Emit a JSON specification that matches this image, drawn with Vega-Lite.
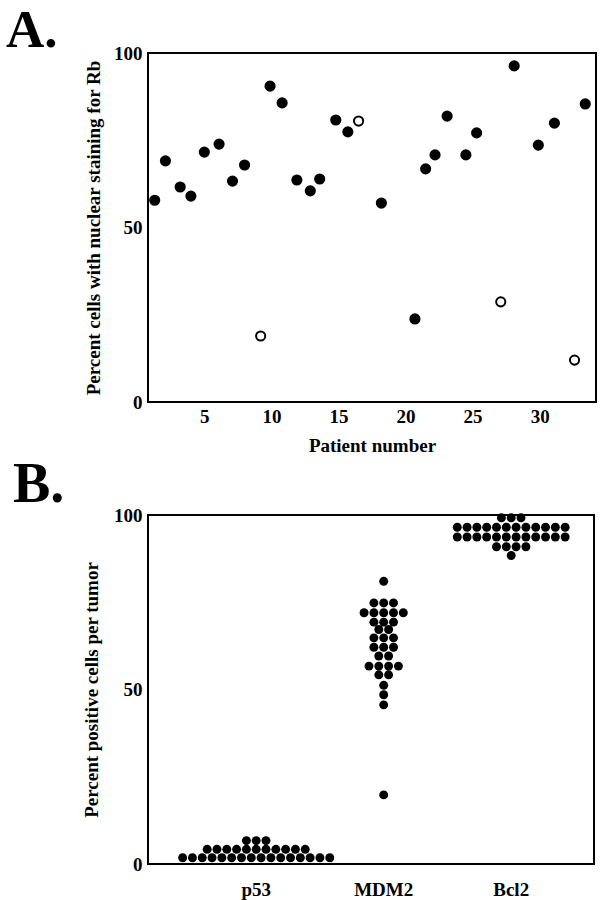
{
  "$schema": "https://vega.github.io/schema/vega-lite/v6.json",
  "padding": {"left": 5, "top": 4, "right": 5, "bottom": 0},
  "spacing": 0,
  "background": "white",
  "config": {
    "view": {"stroke": "black", "strokeWidth": 2},
    "font": "Liberation Serif",
    "axis": {
      "labelFont": "Liberation Serif", "labelFontWeight": "bold", "labelFontSize": 19, "labelColor": "black",
      "titleFont": "Liberation Serif", "titleFontWeight": "bold", "titleFontSize": 19, "titleColor": "black",
      "ticks": false, "grid": false, "domain": false
    },
    "title": {"font": "Liberation Serif", "fontWeight": "bold", "fontSize": 56, "color": "black", "anchor": "start", "frame": "group"}
  },
  "vconcat": [
    {
      "title": {"text": "A.", "dx": -142, "baseline": "alphabetic", "offset": -56, "fontSize": 53},
      "width": 448,
      "height": 349,
      "data": {"values": [
        {"patient": 1.3, "rb": 57.8, "status": "positive"},
        {"patient": 2.1, "rb": 69.1, "status": "positive"},
        {"patient": 3.2, "rb": 61.6, "status": "positive"},
        {"patient": 4.0, "rb": 59.0, "status": "positive"},
        {"patient": 5.0, "rb": 71.6, "status": "positive"},
        {"patient": 6.1, "rb": 73.9, "status": "positive"},
        {"patient": 7.1, "rb": 63.3, "status": "positive"},
        {"patient": 8.0, "rb": 67.9, "status": "positive"},
        {"patient": 9.2, "rb": 18.9, "status": "open"},
        {"patient": 9.9, "rb": 90.5, "status": "positive"},
        {"patient": 10.8, "rb": 85.7, "status": "positive"},
        {"patient": 11.9, "rb": 63.6, "status": "positive"},
        {"patient": 12.9, "rb": 60.5, "status": "positive"},
        {"patient": 13.6, "rb": 63.9, "status": "positive"},
        {"patient": 14.8, "rb": 80.8, "status": "positive"},
        {"patient": 15.7, "rb": 77.4, "status": "positive"},
        {"patient": 16.5, "rb": 80.5, "status": "open"},
        {"patient": 18.2, "rb": 57.0, "status": "positive"},
        {"patient": 20.7, "rb": 23.8, "status": "positive"},
        {"patient": 21.5, "rb": 66.8, "status": "positive"},
        {"patient": 22.2, "rb": 70.8, "status": "positive"},
        {"patient": 23.1, "rb": 81.9, "status": "positive"},
        {"patient": 24.5, "rb": 70.8, "status": "positive"},
        {"patient": 25.3, "rb": 77.1, "status": "positive"},
        {"patient": 27.1, "rb": 28.7, "status": "open"},
        {"patient": 28.1, "rb": 96.3, "status": "positive"},
        {"patient": 29.9, "rb": 73.6, "status": "positive"},
        {"patient": 31.1, "rb": 79.9, "status": "positive"},
        {"patient": 32.6, "rb": 12.0, "status": "open"},
        {"patient": 33.4, "rb": 85.4, "status": "positive"}
      ]},
      "mark": {"type": "point", "shape": "circle", "filled": true, "size": 84, "stroke": "black", "strokeWidth": 2, "opacity": 1},
      "encoding": {
        "x": {"field": "patient", "type": "quantitative", "scale": {"domain": [0.8, 34.2], "nice": false, "zero": false},
              "axis": {"values": [5, 10, 15, 20, 25, 30], "title": "Patient number", "labelPadding": 5, "titlePadding": 10}},
        "y": {"field": "rb", "type": "quantitative", "scale": {"domain": [0, 100], "nice": false},
              "axis": {"values": [0, 50, 100], "title": "Percent cells with nuclear staining for Rb", "labelPadding": 6, "titlePadding": 10}},
        "fill": {"field": "status", "type": "nominal", "scale": {"domain": ["positive", "open"], "range": ["black", "white"]}, "legend": null}
      }
    },
    {
      "title": {"text": "B.", "dx": -135, "baseline": "alphabetic", "offset": -52},
      "width": 446,
      "height": 349,
      "data": {"values": [
        {"marker": "p53", "pct": 1.8}, {"marker": "p53", "pct": 1.8}, {"marker": "p53", "pct": 1.8}, {"marker": "p53", "pct": 1.8},
        {"marker": "p53", "pct": 1.8}, {"marker": "p53", "pct": 1.8}, {"marker": "p53", "pct": 1.8}, {"marker": "p53", "pct": 1.8},
        {"marker": "p53", "pct": 1.8}, {"marker": "p53", "pct": 1.8}, {"marker": "p53", "pct": 1.8}, {"marker": "p53", "pct": 1.8},
        {"marker": "p53", "pct": 1.8}, {"marker": "p53", "pct": 1.8}, {"marker": "p53", "pct": 1.8}, {"marker": "p53", "pct": 1.8},
        {"marker": "p53", "pct": 4.2}, {"marker": "p53", "pct": 4.2}, {"marker": "p53", "pct": 4.2}, {"marker": "p53", "pct": 4.2},
        {"marker": "p53", "pct": 4.2}, {"marker": "p53", "pct": 4.2}, {"marker": "p53", "pct": 4.2}, {"marker": "p53", "pct": 4.2},
        {"marker": "p53", "pct": 4.2}, {"marker": "p53", "pct": 4.2}, {"marker": "p53", "pct": 4.2},
        {"marker": "p53", "pct": 6.7}, {"marker": "p53", "pct": 6.7}, {"marker": "p53", "pct": 6.7},
        {"marker": "MDM2", "pct": 81.0},
        {"marker": "MDM2", "pct": 74.8}, {"marker": "MDM2", "pct": 74.8}, {"marker": "MDM2", "pct": 74.8},
        {"marker": "MDM2", "pct": 72.0}, {"marker": "MDM2", "pct": 72.0}, {"marker": "MDM2", "pct": 72.0}, {"marker": "MDM2", "pct": 72.0}, {"marker": "MDM2", "pct": 72.0},
        {"marker": "MDM2", "pct": 69.3}, {"marker": "MDM2", "pct": 69.3}, {"marker": "MDM2", "pct": 69.3},
        {"marker": "MDM2", "pct": 67.2}, {"marker": "MDM2", "pct": 67.2},
        {"marker": "MDM2", "pct": 64.8}, {"marker": "MDM2", "pct": 64.8}, {"marker": "MDM2", "pct": 64.8},
        {"marker": "MDM2", "pct": 62.1}, {"marker": "MDM2", "pct": 62.1}, {"marker": "MDM2", "pct": 62.1},
        {"marker": "MDM2", "pct": 59.6}, {"marker": "MDM2", "pct": 59.6},
        {"marker": "MDM2", "pct": 56.7}, {"marker": "MDM2", "pct": 56.7}, {"marker": "MDM2", "pct": 56.7}, {"marker": "MDM2", "pct": 56.7},
        {"marker": "MDM2", "pct": 54.2}, {"marker": "MDM2", "pct": 54.2},
        {"marker": "MDM2", "pct": 51.2},
        {"marker": "MDM2", "pct": 48.5},
        {"marker": "MDM2", "pct": 45.6},
        {"marker": "MDM2", "pct": 19.8},
        {"marker": "Bcl2", "pct": 99.2}, {"marker": "Bcl2", "pct": 99.2}, {"marker": "Bcl2", "pct": 99.2},
        {"marker": "Bcl2", "pct": 96.5}, {"marker": "Bcl2", "pct": 96.5}, {"marker": "Bcl2", "pct": 96.5}, {"marker": "Bcl2", "pct": 96.5},
        {"marker": "Bcl2", "pct": 96.5}, {"marker": "Bcl2", "pct": 96.5}, {"marker": "Bcl2", "pct": 96.5}, {"marker": "Bcl2", "pct": 96.5},
        {"marker": "Bcl2", "pct": 96.5}, {"marker": "Bcl2", "pct": 96.5}, {"marker": "Bcl2", "pct": 96.5}, {"marker": "Bcl2", "pct": 96.5},
        {"marker": "Bcl2", "pct": 93.7}, {"marker": "Bcl2", "pct": 93.7}, {"marker": "Bcl2", "pct": 93.7}, {"marker": "Bcl2", "pct": 93.7},
        {"marker": "Bcl2", "pct": 93.7}, {"marker": "Bcl2", "pct": 93.7}, {"marker": "Bcl2", "pct": 93.7}, {"marker": "Bcl2", "pct": 93.7},
        {"marker": "Bcl2", "pct": 93.7}, {"marker": "Bcl2", "pct": 93.7}, {"marker": "Bcl2", "pct": 93.7}, {"marker": "Bcl2", "pct": 93.7},
        {"marker": "Bcl2", "pct": 90.9}, {"marker": "Bcl2", "pct": 90.9}, {"marker": "Bcl2", "pct": 90.9}, {"marker": "Bcl2", "pct": 90.9},
        {"marker": "Bcl2", "pct": 88.4}
      ]},
      "transform": [
        {"window": [{"op": "row_number", "as": "k"}], "groupby": ["marker", "pct"]},
        {"joinaggregate": [{"op": "count", "as": "n"}], "groupby": ["marker", "pct"]},
        {"calculate": "datum.k - (datum.n + 1) / 2", "as": "slot"}
      ],
      "mark": {"type": "point", "shape": "circle", "filled": true, "size": 80, "color": "black", "opacity": 1, "clip": false},
      "encoding": {
        "x": {"field": "marker", "type": "nominal", "sort": ["p53", "MDM2", "Bcl2"],
              "scale": {"paddingInner": 0, "paddingOuter": 0.249, "align": 0.7},
              "axis": {"title": null, "labelAngle": 0, "labelPadding": 16}},
        "xOffset": {"field": "slot", "type": "quantitative", "scale": {"domain": [-6.5, 6.5], "nice": false, "zero": false}},
        "y": {"field": "pct", "type": "quantitative", "scale": {"domain": [0, 100], "nice": false},
              "axis": {"values": [0, 50, 100], "title": "Percent positive cells per tumor", "labelPadding": 6, "titlePadding": 12}}
      }
    }
  ]
}
